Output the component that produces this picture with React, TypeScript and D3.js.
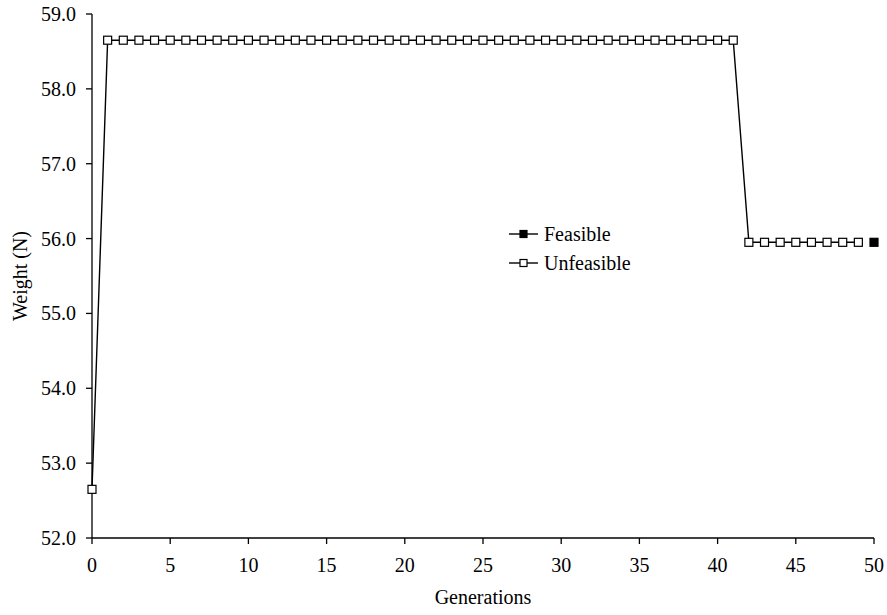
import React from "react";
import * as d3 from "d3";

const generations: number[] = [
  0, 1, 2, 3, 4, 5, 6, 7, 8, 9, 10, 11, 12, 13, 14, 15, 16, 17, 18, 19, 20,
  21, 22, 23, 24, 25, 26, 27, 28, 29, 30, 31, 32, 33, 34, 35, 36, 37, 38, 39,
  40, 41, 42, 43, 44, 45, 46, 47, 48, 49,
];
const unfeasibleWeights: number[] = [
  52.65, 58.65, 58.65, 58.65, 58.65, 58.65, 58.65, 58.65, 58.65, 58.65, 58.65,
  58.65, 58.65, 58.65, 58.65, 58.65, 58.65, 58.65, 58.65, 58.65, 58.65, 58.65,
  58.65, 58.65, 58.65, 58.65, 58.65, 58.65, 58.65, 58.65, 58.65, 58.65, 58.65,
  58.65, 58.65, 58.65, 58.65, 58.65, 58.65, 58.65, 58.65, 58.65, 55.95, 55.95,
  55.95, 55.95, 55.95, 55.95, 55.95, 55.95,
];
const feasibleGenerations: number[] = [50];
const feasibleWeights: number[] = [55.95];

const xTicks: number[] = [0, 5, 10, 15, 20, 25, 30, 35, 40, 45, 50];
const yTicks: number[] = [52, 53, 54, 55, 56, 57, 58, 59];
const legendLabels: string[] = ["Feasible", "Unfeasible"];

const W = 887;
const H = 615;
const textStyle: React.CSSProperties = {
  fontFamily: "Liberation Serif",
  fontSize: "20px",
};

export default function App() {
  const x = d3.scaleLinear().domain([0, 50]).range([92, 874]);
  const y = d3.scaleLinear().domain([52, 59]).range([538, 14]);

  const unfeasible = generations.map((g, i) => ({ g, w: unfeasibleWeights[i] }));
  const feasible = feasibleGenerations.map((g, i) => ({ g, w: feasibleWeights[i] }));

  const line = d3
    .line<{ g: number; w: number }>()
    .x((d) => x(d.g))
    .y((d) => y(d.w));

  const ms = 8;
  const x0 = x(0);
  const y0 = y(52);

  return (
    <svg
      width={W}
      height={H}
      style={{ position: "absolute", left: 0, top: 0, background: "#fff" }}
    >
      {/* axes */}
      <line x1={x0} x2={x0} y1={y(59)} y2={y0} stroke="#000" strokeWidth={1.3} />
      <line x1={x0} x2={x(50)} y1={y0} y2={y0} stroke="#000" strokeWidth={1.3} />
      {yTicks.map((t) => (
        <g key={"y" + t}>
          <line x1={x0 - 6} x2={x0} y1={y(t)} y2={y(t)} stroke="#000" strokeWidth={1.3} />
          <text x={x0 - 16} y={y(t) + 7} textAnchor="end" style={textStyle} fill="#000">
            {t.toFixed(1)}
          </text>
        </g>
      ))}
      {xTicks.map((t) => (
        <g key={"x" + t}>
          <line x1={x(t)} x2={x(t)} y1={y0} y2={y0 + 6} stroke="#000" strokeWidth={1.3} />
          <text x={x(t)} y={y0 + 34} textAnchor="middle" style={textStyle} fill="#000">
            {t}
          </text>
        </g>
      ))}
      <text x={(x(0) + x(50)) / 2} y={604} textAnchor="middle" style={textStyle} fill="#000">
        Generations
      </text>
      <text
        transform={`translate(27, ${(y(59) + y0) / 2}) rotate(-90)`}
        textAnchor="middle"
        style={textStyle}
        fill="#000"
      >
        Weight (N)
      </text>

      {/* unfeasible series */}
      <path d={line(unfeasible) || ""} fill="none" stroke="#000" strokeWidth={1.4} />
      {unfeasible.map((d, i) => (
        <rect
          key={"u" + i}
          x={x(d.g) - ms / 2}
          y={y(d.w) - ms / 2}
          width={ms}
          height={ms}
          fill="#fff"
          stroke="#000"
          strokeWidth={1.2}
        />
      ))}
      {/* feasible series */}
      {feasible.map((d, i) => (
        <rect
          key={"f" + i}
          x={x(d.g) - ms / 2}
          y={y(d.w) - ms / 2}
          width={ms}
          height={ms}
          fill="#000"
          stroke="#000"
          strokeWidth={1.2}
        />
      ))}

      {/* legend */}
      {legendLabels.map((lab, i) => {
        const cy = 234 + i * 29;
        return (
          <g key={lab}>
            <line x1={509} x2={538} y1={cy} y2={cy} stroke="#000" strokeWidth={1.4} />
            <rect
              x={523.5 - 3.5}
              y={cy - 3.5}
              width={7}
              height={7}
              fill={i === 0 ? "#000" : "#fff"}
              stroke="#000"
              strokeWidth={1.2}
            />
            <text x={544} y={cy + 7} style={textStyle} fill="#000">
              {lab}
            </text>
          </g>
        );
      })}
    </svg>
  );
}
